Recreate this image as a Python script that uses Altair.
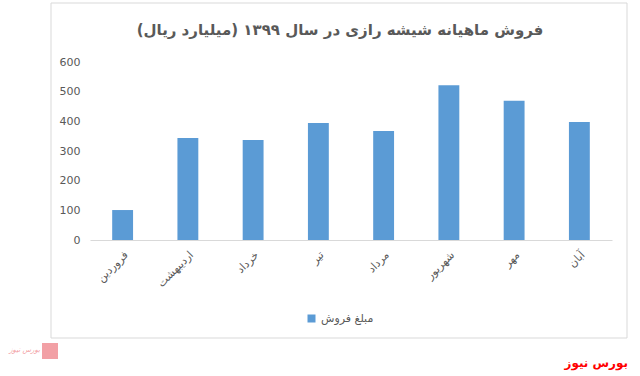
import altair as alt
import pandas as pd

months = ["فروردین", "اردیبهشت", "خرداد", "تیر", "مرداد", "شهریور", "مهر", "آبان"]
sales = [101, 344, 337, 394, 367, 522, 469, 398]
series_name = "مبلغ فروش"
title_text = "فروش ماهیانه شیشه رازی در سال ۱۳۹۹ (میلیارد ریال)"
brand_text = "بورس نیوز"
logo_label = "بورس نیوز"
y_ticks = [0, 100, 200, 300, 400, 500, 600]

df = pd.DataFrame({"month": months, "sales": sales, "series": [series_name] * len(months)})

W, H = 522, 178
FONT = "DejaVu Sans"

frame = alt.Chart(pd.DataFrame({"a": [0]})).mark_rect(
    fill="white", fillOpacity=0, stroke="#D9D9D9", strokeWidth=1
).encode(
    x=alt.value(-39), x2=alt.value(537), y=alt.value(-59), y2=alt.value(276)
)

bars = alt.Chart(df).mark_bar().encode(
    x=alt.X("month:N", sort=months,
            scale=alt.Scale(paddingInner=0.68, paddingOuter=0.34),
            axis=alt.Axis(title=None, labelAngle=-45, labelAlign="right", labelBaseline="middle",
                          labelPadding=13, labelOffset=4, ticks=False, domainColor="#D9D9D9", zindex=1,
                          labelColor="#595959", labelFontSize=11, labelFont=FONT)),
    y=alt.Y("sales:Q", scale=alt.Scale(domain=[0, 600], nice=False),
            axis=alt.Axis(title=None, values=y_ticks, grid=False, domain=False, ticks=False,
                          labelPadding=10, labelColor="#595959", labelFontSize=11, labelFont=FONT,
                          zindex=1)),
    color=alt.Color("series:N", scale=alt.Scale(range=["#5B9BD5"]),
                    legend=alt.Legend(title=None, orient="none", legendX=216, legendY=251,
                                      symbolType="square", symbolSize=64, symbolStrokeWidth=0,
                                      labelFont=FONT, labelFontSize=11, labelColor="#595959")),
)

title = alt.Chart(pd.DataFrame({"t": [title_text]})).mark_text(
    font=FONT, fontSize=15, fontWeight="bold", color="#595959", align="center", baseline="middle"
).encode(text="t:N", x=alt.value(250), y=alt.value(-32))

brand = alt.Chart(pd.DataFrame({"t": [brand_text]})).mark_text(
    font=FONT, fontSize=12, fontWeight="bold", color="#FF0000", align="right", baseline="middle"
).encode(text="t:N", x=alt.value(538), y=alt.value(301))

logo_box = alt.Chart(pd.DataFrame({"a": [0]})).mark_rect(fill="#F2A0A5").encode(
    x=alt.value(-48), x2=alt.value(-32), y=alt.value(281), y2=alt.value(297)
)
logo_text = alt.Chart(pd.DataFrame({"t": [logo_label]})).mark_text(
    font=FONT, fontSize=7, fontStyle="italic", color="#F2A0A5", align="right", baseline="middle"
).encode(text="t:N", x=alt.value(-50), y=alt.value(288))

chart = alt.layer(frame, bars, title, brand, logo_box, logo_text).properties(
    width=W, height=H,
    padding={"left": 90, "top": 62, "right": 28, "bottom": 136},
    autosize=alt.AutoSizeParams(type="none"),
    background="white",
).configure_view(stroke=None)

chart.save("out.html", embed_options={"renderer": "svg", "actions": False})
